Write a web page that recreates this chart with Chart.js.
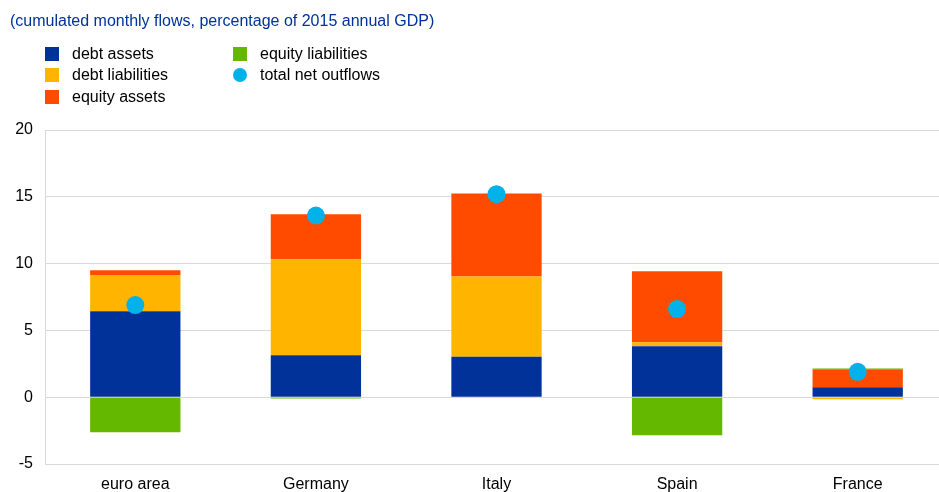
<!DOCTYPE html>
<html>
<head>
<meta charset="utf-8">
<script src="https://cdn.jsdelivr.net/npm/chart.js@4/dist/chart.umd.min.js"></script>
<style>
  body { margin: 0; background: #fff; font-family: Arial, "Liberation Sans", sans-serif; }
  #wrap { position: relative; width: 939px; height: 492px; overflow: hidden; }
  #title { position: absolute; left: 10px; top: 12px; font-size: 16px; color: #003299; white-space: nowrap; }
  #legendContainer { position: absolute; left: 45px; top: 43px; }
  #legendContainer ul {
    list-style: none; margin: 0; padding: 0;
    display: grid; grid-template-rows: repeat(3, 21.5px); grid-auto-flow: column;
    grid-template-columns: 188px 220px;
  }
  #legendContainer li { display: flex; align-items: center; font-size: 16px; color: #000; white-space: nowrap; }
  #legendContainer .box { width: 14px; height: 14px; margin-right: 13px; flex: none; }
  canvas { position: absolute; left: 0; top: 0; }
</style>
</head>
<body>
<div id="wrap">
  <canvas id="chartDestination" width="957" height="492"></canvas>
  <div id="title">(cumulated monthly flows, percentage of 2015 annual GDP)</div>
  <div id="legendContainer"></div>
</div>
<script>
const categories = ["euro area", "Germany", "Italy", "Spain", "France"];
const debtAssets = [6.44, 3.14, 3.02, 3.82, 0.75];
const debtLiabilities = [2.70, 7.19, 6.02, 0.30, -0.15];
const equityAssets = [0.37, 3.37, 6.20, 5.30, 1.35];
const equityLiabilities = [-2.62, -0.10, 0.0, -2.84, 0.05];
const totalNetOutflows = [6.9, 13.6, 15.2, 6.6, 1.9];
const yTicks = [-5, 0, 5, 10, 15, 20];

// legend in two columns, filled top to bottom
const htmlLegendPlugin = {
  id: "htmlLegend",
  afterUpdate(chart, args, options) {
    const container = document.getElementById(options.containerID);
    let ul = container.querySelector("ul");
    if (!ul) {
      ul = document.createElement("ul");
      container.appendChild(ul);
    }
    while (ul.firstChild) ul.firstChild.remove();
    chart.data.datasets.forEach((ds) => {
      const li = document.createElement("li");
      const box = document.createElement("span");
      box.className = "box";
      box.style.background = ds.backgroundColor;
      if (ds.type === "line") box.style.borderRadius = "50%";
      li.appendChild(box);
      li.appendChild(document.createTextNode(ds.label));
      ul.appendChild(li);
    });
  },
};

const barSet = (label, data, color) => ({
  label: label,
  data: data,
  backgroundColor: color,
  borderWidth: 0,
  stack: "flows",
  order: 1,
  categoryPercentage: 1,
  barPercentage: 0.5,
});

const tickFont = { size: 16, family: "Arial, 'Liberation Sans'" };

const ctx = document.getElementById("chartDestination");
const chart = new Chart(ctx, {
  type: "bar",
  data: {
    labels: categories,
    datasets: [
      barSet("debt assets", debtAssets, "#003299"),
      barSet("debt liabilities", debtLiabilities, "#ffb400"),
      barSet("equity assets", equityAssets, "#ff4b00"),
      barSet("equity liabilities", equityLiabilities, "#65b800"),
      {
        type: "line",
        label: "total net outflows",
        data: totalNetOutflows,
        backgroundColor: "#00b1ea",
        borderColor: "#00b1ea",
        showLine: false,
        pointRadius: 9,
        pointBorderWidth: 0,
        stack: "net",
        order: 0,
      },
    ],
  },
  options: {
    responsive: false,
    animation: false,
    layout: { padding: { top: 130, left: 0, right: 0, bottom: 0 } },
    scales: {
      x: {
        stacked: true,
        grid: { display: false, drawTicks: false },
        border: { display: false },
        ticks: { color: "#000", padding: 11, font: tickFont, maxRotation: 0 },
        afterFit(scale) { scale.height = 28; },
      },
      y: {
        stacked: true,
        min: -5,
        max: 20,
        afterBuildTicks(scale) { scale.ticks = yTicks.map((v) => ({ value: v })); },
        grid: { color: "#d9d9d9", drawTicks: false },
        border: { display: true, color: "#d9d9d9" },
        ticks: { color: "#000", padding: 12, font: tickFont },
        afterFit(scale) { scale.width = 45; },
      },
    },
    plugins: {
      legend: { display: false },
      tooltip: { enabled: false },
      htmlLegend: { containerID: "legendContainer" },
    },
  },
  plugins: [htmlLegendPlugin],
});
</script>
</body>
</html>
